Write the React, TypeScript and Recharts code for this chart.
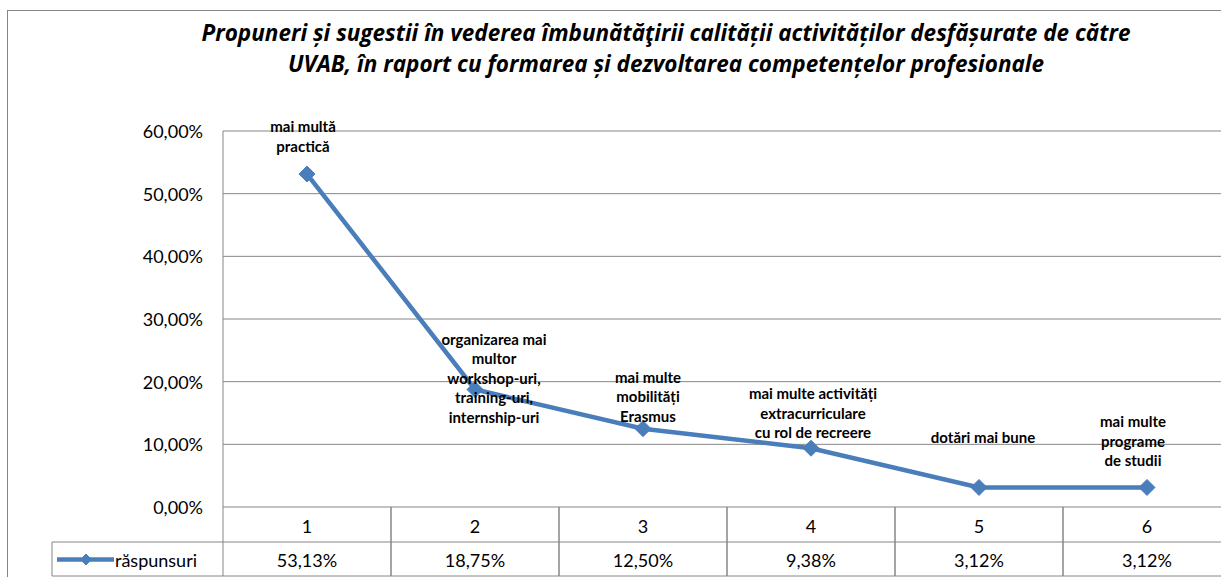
import React from "react";
import {
  CartesianGrid,
  LabelList,
  Line,
  LineChart,
  XAxis,
  YAxis,
} from "recharts";

const CATEGORIES = ["1", "2", "3", "4", "5", "6"];
const RASPUNSURI = [53.13, 18.75, 12.5, 9.38, 3.12, 3.12];
const Y_TICKS = [0, 10, 20, 30, 40, 50, 60];
const SERIES_NAME = "răspunsuri";

const POINT_LABELS = [
  ["mai multă", "practică"],
  ["organizarea mai", "multor", "workshop-uri,", "training-uri,", "internship-uri"],
  ["mai multe", "mobilități", "Erasmus"],
  ["mai multe activități", "extracurriculare", "cu rol de recreere"],
  ["dotări mai bune"],
  ["mai multe", "programe", "de studii"],
];

// hand placed like in the excel original
const LABEL_OFFSETS = [
  { dx: -4, dy: -48 },
  { dx: 19, dy: -51 },
  { dx: 5, dy: -52 },
  { dx: 2, dy: -55 },
  { dx: 4, dy: -50 },
  { dx: -14, dy: -66 },
];

const TITLE_LINES = [
  "Propuneri și sugestii în vederea îmbunătăţirii calității activităților desfășurate de către",
  "UVAB, în raport cu formarea și dezvoltarea competențelor profesionale",
];

const FONT = "Lato, 'Open Sans', sans-serif";
const TITLE_FONT = "'Open Sans', Lato, sans-serif";
const LINE_COLOR = "#4A7EBB";
const GRID_COLOR = "#868686";
const COL_W = 168;
const TABLE_ROW = 35;
const LEGEND_LEFT = 52;

const rows = CATEGORIES.map((c, i) => ({ cat: c, pct: RASPUNSURI[i] }));

function fmtPct(v: number): string {
  return `${v.toFixed(2).replace(".", ",")}%`;
}

function Diamond({ cx, cy, size = 8 }: { cx?: number; cy?: number; size?: number }) {
  if (cx == null || cy == null) return null;
  const r = size;
  return (
    <polygon
      points={`${cx},${cy - r} ${cx + r},${cy} ${cx},${cy + r} ${cx - r},${cy}`}
      fill={LINE_COLOR}
      stroke={LINE_COLOR}
    />
  );
}

function YTick(props: any) {
  const { x, y, payload } = props;
  return (
    <text
      x={x}
      y={y}
      textAnchor="end"
      dominantBaseline="central"
      fontFamily={FONT}
      fontSize={18}
      fill="#000"
    >
      {fmtPct(Number(payload.value))}
    </text>
  );
}

// draws the data table under the plot, one column per tick
function TableTick(props: any) {
  const { x, y, index } = props;
  const left = x - COL_W / 2;
  const mid = y + TABLE_ROW;
  const bottom = y + TABLE_ROW * 2 - 1;
  return (
    <g>
      <line x1={left} y1={y} x2={left} y2={bottom} stroke={GRID_COLOR} />
      <line x1={left + COL_W} y1={y} x2={left + COL_W} y2={bottom} stroke={GRID_COLOR} />
      <line x1={left} y1={mid} x2={left + COL_W} y2={mid} stroke={GRID_COLOR} />
      <line x1={left} y1={bottom} x2={left + COL_W} y2={bottom} stroke={GRID_COLOR} />
      <text
        x={x}
        y={y + TABLE_ROW / 2 + 1}
        textAnchor="middle"
        dominantBaseline="central"
        fontFamily={FONT}
        fontSize={18}
      >
        {CATEGORIES[index]}
      </text>
      <text
        x={x}
        y={mid + TABLE_ROW / 2}
        textAnchor="middle"
        dominantBaseline="central"
        fontFamily={FONT}
        fontSize={18}
      >
        {fmtPct(RASPUNSURI[index])}
      </text>
      {index === 0 && (
        <g>
          <line x1={LEGEND_LEFT} y1={mid} x2={left} y2={mid} stroke={GRID_COLOR} />
          <line x1={LEGEND_LEFT} y1={bottom} x2={left} y2={bottom} stroke={GRID_COLOR} />
          <line x1={LEGEND_LEFT} y1={mid} x2={LEGEND_LEFT} y2={bottom} stroke={GRID_COLOR} />
          <line
            x1={LEGEND_LEFT + 5}
            y1={mid + TABLE_ROW / 2}
            x2={LEGEND_LEFT + 62}
            y2={mid + TABLE_ROW / 2}
            stroke={LINE_COLOR}
            strokeWidth={4.5}
          />
          <Diamond cx={LEGEND_LEFT + 34} cy={mid + TABLE_ROW / 2} size={5.5} />
          <text
            x={LEGEND_LEFT + 63}
            y={mid + TABLE_ROW / 2}
            dominantBaseline="central"
            fontFamily={FONT}
            fontSize={18}
          >
            {SERIES_NAME}
          </text>
        </g>
      )}
    </g>
  );
}

function PointLabel(props: any) {
  const { x, y, index } = props;
  const lines = POINT_LABELS[index] ?? [];
  const off = LABEL_OFFSETS[index] ?? { dx: 0, dy: -20 };
  return (
    <g>
      {lines.map((t, i) => (
        <text
          key={i}
          x={x + off.dx}
          y={y + off.dy + i * 19.5}
          textAnchor="middle"
          dominantBaseline="central"
          fontFamily={FONT}
          fontWeight={700}
          fontSize={15}
          fill="#000"
        >
          {t}
        </text>
      ))}
    </g>
  );
}

export default function App() {
  return (
    <div
      style={{
        position: "absolute",
        left: 0,
        top: 0,
        width: 1221,
        height: 577,
        overflow: "hidden",
        background: "#fff",
      }}
    >
      <div
        style={{
          position: "absolute",
          left: 7,
          top: 10,
          width: 1400,
          height: 800,
          border: `1px solid ${GRID_COLOR}`,
        }}
      />
      <div
        style={{
          position: "absolute",
          left: 0,
          top: 17,
          width: 1332,
          textAlign: "center",
          fontFamily: TITLE_FONT,
          fontWeight: 700,
          fontStyle: "italic",
          fontSize: 22.5,
          lineHeight: "31px",
          color: "#000",
        }}
      >
        {TITLE_LINES.map((t) => (
          <div key={t}>{t}</div>
        ))}
      </div>
      <div style={{ position: "absolute", left: 0, top: 0 }}>
        <LineChart
          width={1240}
          height={577}
          data={rows}
          margin={{ top: 131, right: 9, bottom: 1, left: 0 }}
        >
          <CartesianGrid vertical={false} stroke={GRID_COLOR} />
          <XAxis
            dataKey="cat"
            height={69}
            padding={{ left: COL_W / 2, right: COL_W / 2 }}
            axisLine={false}
            tickLine={false}
            tickSize={0}
            tickMargin={0}
            interval={0}
            tick={<TableTick />}
          />
          <YAxis
            width={223}
            domain={[0, 60]}
            ticks={Y_TICKS}
            axisLine={{ stroke: GRID_COLOR }}
            tickLine={false}
            tickSize={0}
            tickMargin={20}
            tick={<YTick />}
          />
          <Line
            dataKey="pct"
            name={SERIES_NAME}
            stroke={LINE_COLOR}
            strokeWidth={4.5}
            dot={<Diamond size={8} />}
            activeDot={false}
            isAnimationActive={false}
          >
            <LabelList dataKey="pct" content={<PointLabel />} />
          </Line>
        </LineChart>
      </div>
    </div>
  );
}
